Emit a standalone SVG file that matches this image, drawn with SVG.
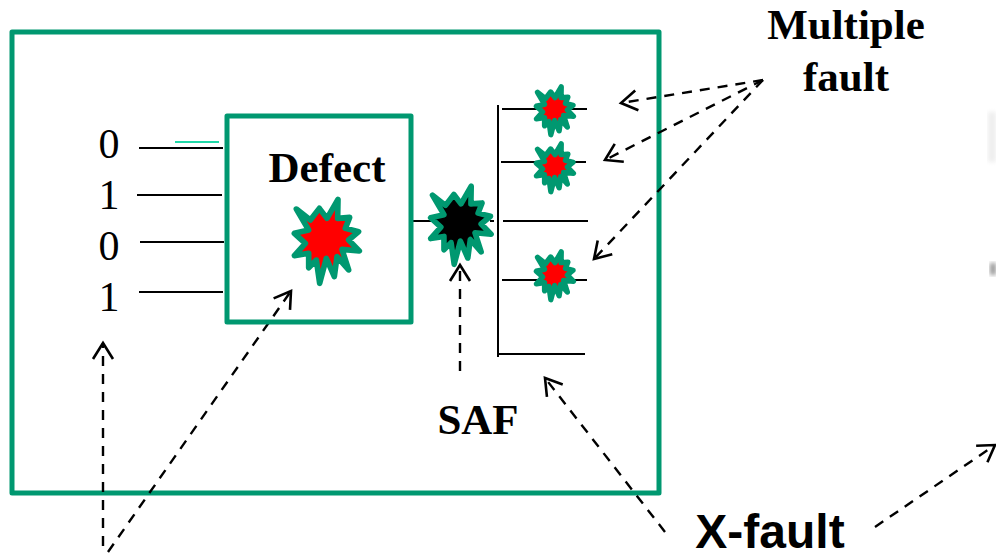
<svg xmlns="http://www.w3.org/2000/svg" width="996" height="554" viewBox="0 0 996 554">
<style>
.box{fill:none;stroke:#009870;stroke-width:5;stroke-linejoin:round}
.w{stroke:#000;stroke-width:2;fill:none}
.a{stroke:#000;stroke-width:2.4;fill:none;stroke-dasharray:10 8;marker-end:url(#h)}
.s{font-family:"Liberation Serif","Times New Roman",serif;fill:#000}
.b{font-weight:bold;text-anchor:middle;font-size:43px}
.n{font-size:42px;text-anchor:middle}
</style>
<defs>
<marker id="h" markerUnits="userSpaceOnUse" markerWidth="24" markerHeight="24" refX="20" refY="12" orient="auto">
<path d="M4 2L20 12L4 22" fill="none" stroke="#000" stroke-width="2.6" stroke-dasharray="none"/>
</marker>
<polygon id="burst" points="-92,-93 -50,-60 -23,-95 0,-65 33,-122 32,-65 68,-68 55,-35 95,-25 65,0 97,33 45,28 65,90 30,50 22,110 -2,55 -22,130 -32,60 -55,83 -55,40 -98,47 -65,10 -98,-20 -55,-30" stroke="#009870" stroke-linejoin="round"/>
<filter id="blur"><feGaussianBlur stdDeviation="2"/></filter>
</defs>
<rect x="988" y="112" width="8" height="50" fill="#eee" filter="url(#blur)"/>
<rect x="990" y="263" width="6" height="12" fill="#999" filter="url(#blur)"/>
<g id="outer-box"><rect class="box" x="12" y="32" width="647" height="461"/></g>
<g id="connectors">
<path class="w" d="M139 148H223M137 195H222M140 242H224M139 292H223M410 221H434M490 221H494M498 105V357M502 109H587M501 162H586M503 221H588M502 280H587M499 354H585"/>
<path d="M175 142H219" stroke="#20d8a8" stroke-width="2" fill="none"/>
<path class="a" d="M103 546L103 343"/>
<path class="a" d="M108 552L291 291"/>
<path class="a" d="M460 371L460 265"/>
<path class="a" d="M763 80L621 103"/>
<path class="a" d="M763 80L605 160"/>
<path class="a" d="M763 80L594 259"/>
<path class="a" d="M665 532L545 378"/>
<path class="a" d="M875 527L995 445"/>
</g>
<g id="inputs">
<text class="s n" x="109" y="158">0</text>
<text class="s n" x="109" y="209">1</text>
<text class="s n" x="109" y="260">0</text>
<text class="s n" x="109" y="311">1</text>
</g>
<g id="defect-box"><rect class="box" x="227" y="116" width="184" height="206"/>
<text class="s b" x="327" y="182">Defect</text>
<use href="#burst" transform="translate(327 240) scale(.333)" fill="#f00" stroke-width="17"/></g>
<g id="saf-burst"><use href="#burst" transform="translate(461 224) scale(.31)" fill="#000" stroke-width="18"/></g>
<g id="fault-1"><use href="#burst" transform="translate(555 110) scale(.19)" fill="#f00" stroke-width="28"/></g>
<g id="fault-2"><use href="#burst" transform="translate(555 167) scale(.19)" fill="#f00" stroke-width="28"/></g>
<g id="fault-3"><use href="#burst" transform="translate(555 275) scale(.19)" fill="#f00" stroke-width="28"/></g>
<g id="label-saf"><text class="s b" x="478" y="434">SAF</text></g>
<g id="label-multiple"><text class="s b" x="846" y="39">Multiple</text><text class="s b" x="846" y="91">fault</text></g>
<g id="label-x"><text x="770" y="548" text-anchor="middle" font-family="Liberation Sans,Arial,sans-serif" font-weight="bold" font-size="48">X-fault</text></g>
</svg>
